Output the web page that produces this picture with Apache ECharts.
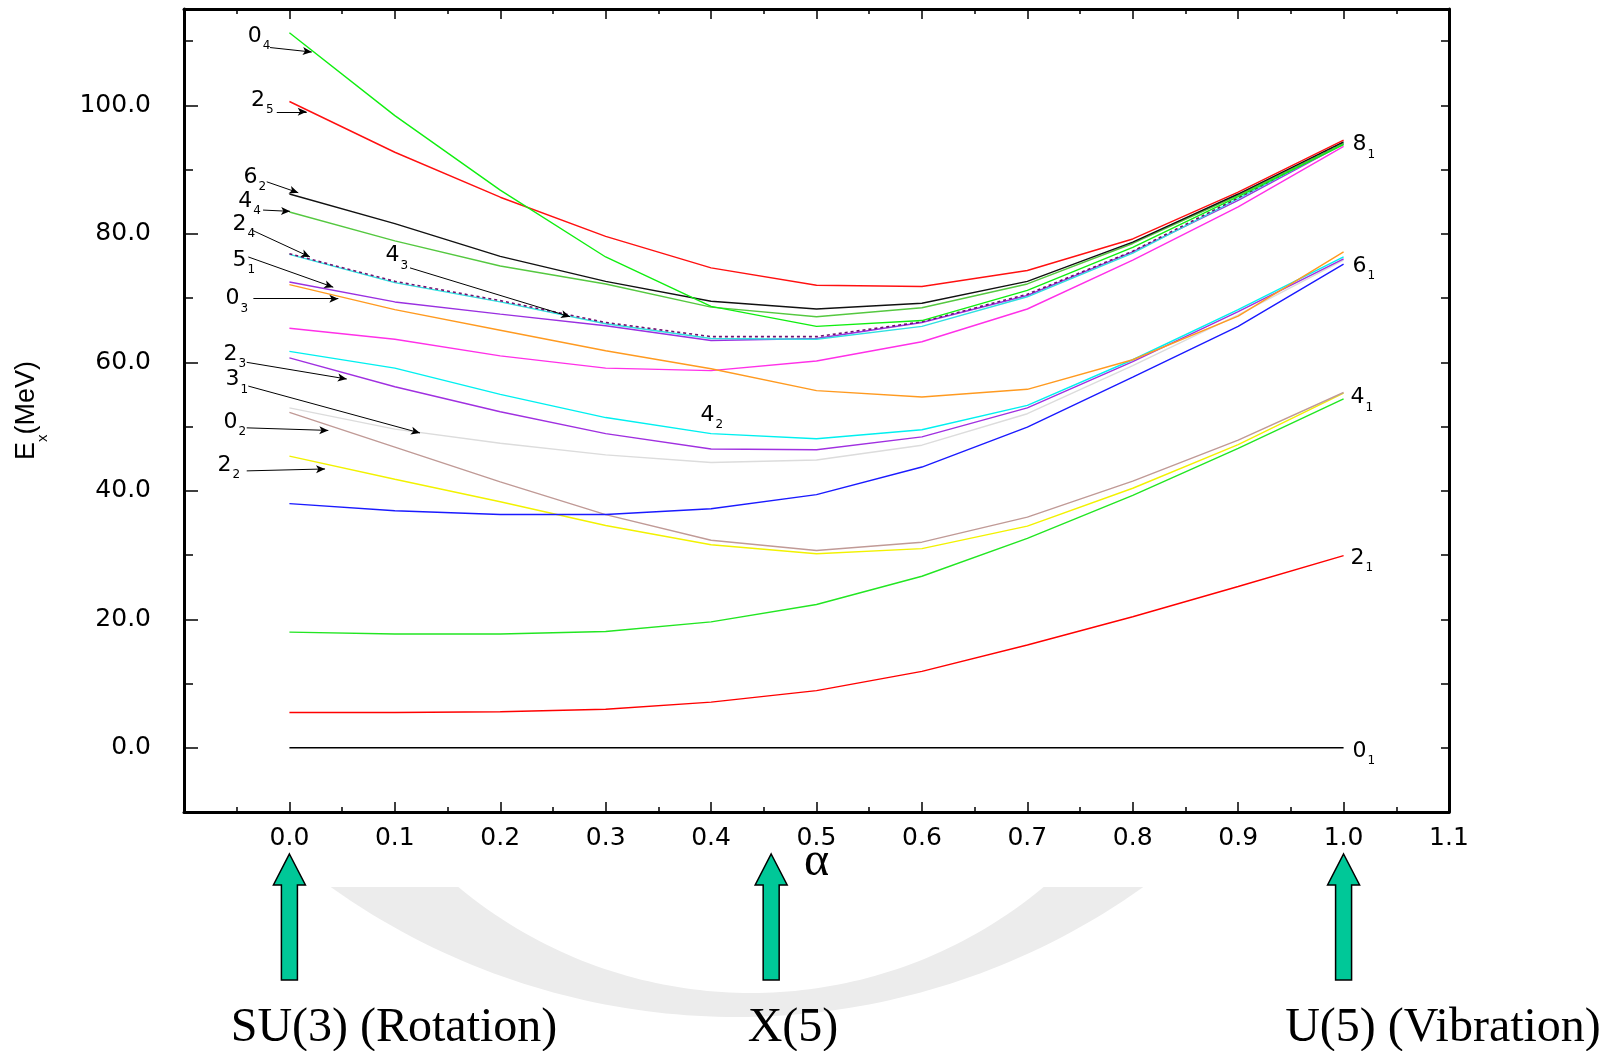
<!DOCTYPE html>
<html>
<head>
<meta charset="utf-8">
<script src="https://cdn.jsdelivr.net/npm/echarts@6/dist/echarts.min.js"></script>
<style>
html,body{margin:0;padding:0;background:#fff;}
#chart{width:1617px;height:1051px;}
</style>
</head>
<body>
<div id="chart"></div>
<script>
// ---------- data ----------
const alpha = [0.0, 0.1, 0.2, 0.3, 0.4, 0.5, 0.6, 0.7, 0.8, 0.9, 1.0];

const E_0_1   = [0, 0, 0, 0, 0, 0, 0, 0, 0, 0, 0];
const E_2_1   = [5.5, 5.5, 5.6, 6.0, 7.1, 8.9, 11.9, 16.0, 20.4, 25.1, 29.9];
const E_4_1   = [18.0, 17.7, 17.7, 18.1, 19.6, 22.3, 26.7, 32.6, 39.3, 46.6, 54.3];
const E_2_2   = [45.4, 41.8, 38.3, 34.6, 31.6, 30.2, 31.0, 34.5, 40.4, 47.2, 55.2];
const E_brown = [52.2, 46.8, 41.4, 36.3, 32.3, 30.7, 32.0, 35.9, 41.5, 47.9, 55.3];
const E_grey  = [52.9, 49.6, 47.4, 45.6, 44.4, 44.8, 47.1, 52.0, 59.5, 67.4, 75.9];
const E_blue  = [38.0, 36.9, 36.3, 36.3, 37.2, 39.4, 43.7, 49.9, 57.7, 65.6, 75.3];
const E_purpleLow = [60.7, 56.2, 52.3, 48.9, 46.5, 46.4, 48.4, 52.9, 60.1, 67.9, 76.1];
const E_cyanLow   = [61.7, 59.1, 55.0, 51.4, 48.9, 48.1, 49.5, 53.3, 60.4, 68.2, 76.4];
const E_magenta   = [65.3, 63.6, 61.0, 59.1, 58.7, 60.2, 63.2, 68.3, 75.9, 84.2, 93.6];
const E_0_3   = [72.1, 68.2, 65.0, 61.8, 59.0, 55.6, 54.6, 55.8, 60.4, 67.2, 77.2];
const E_5_1   = [72.5, 69.4, 67.5, 65.7, 63.4, 63.7, 66.2, 70.4, 77.2, 85.2, 94.0];
const E_2_4   = [76.8, 72.4, 69.4, 66.0, 63.7, 63.6, 65.6, 70.2, 77.0, 85.5, 94.1];
const E_4_3   = [76.9, 72.6, 69.6, 66.2, 64.0, 64.0, 66.3, 70.6, 77.3, 85.6, 94.2];
const E_4_4   = [83.4, 78.9, 75.0, 72.2, 68.6, 67.1, 68.5, 72.2, 78.5, 86.0, 94.1];
const E_6_2   = [86.2, 81.6, 76.5, 72.6, 69.5, 68.3, 69.2, 72.6, 78.7, 86.2, 94.3];
const E_2_5   = [100.6, 92.7, 85.7, 79.6, 74.7, 72.0, 71.8, 74.3, 79.2, 86.5, 94.6];
const E_0_4   = [111.3, 98.4, 86.8, 76.4, 68.7, 65.6, 66.5, 71.2, 77.9, 85.8, 93.9];

const curveNames  = ['0_1','2_1','4_1','2_2','brown','grey','blue','purpleLow','cyanLow','magenta','0_3','5_1','2_4','4_3','4_4','6_2','2_5','0_4'];
const curveValues = [E_0_1,E_2_1,E_4_1,E_2_2,E_brown,E_grey,E_blue,E_purpleLow,E_cyanLow,E_magenta,E_0_3,E_5_1,E_2_4,E_4_3,E_4_4,E_6_2,E_2_5,E_0_4];
const curveColors = ['#000000','#ff0000','#22e622','#f2f200','#c09a96','#dcdcdc','#1a1aff','#a030e0','#00f0f0','#ff30e8','#ff9a20','#9a30e0','#30e0e0','#701070','#55c840','#111111','#ff1010','#10ee10'];

// tick labels
const yTickLabels = [0, 20, 40, 60, 80, 100];

// state labels [main, subscript] and anchor (alpha, E) of the label's left-middle
const stateLabels = [
  ['0','4',-0.040,110.8], ['2','5',-0.037,100.8], ['6','2',-0.044,88.8], ['4','4',-0.049,85.1],
  ['2','4',-0.0545,81.5], ['5','1',-0.0545,75.9], ['0','3',-0.061,69.9], ['4','3',0.0907,76.6],
  ['2','3',-0.063,61.3], ['3','1',-0.061,57.3], ['0','2',-0.063,50.7], ['2','2',-0.0687,44.0],
  ['4','2',0.3895,51.8], ['8','1',1.008,93.9], ['6','1',1.008,75.0], ['4','1',1.006,54.5],
  ['2','1',1.006,29.5], ['0','1',1.008,-0.5]
];
// pointer arrows: from (alpha,E) to (alpha,E)
const pointerArrows = [
  [-0.0184,109.0, 0.0212,108.3], [-0.0120,99.0, 0.0164,99.0], [-0.0215,88.1, 0.0084,86.4],
  [-0.0250,83.7, 0.0006,83.5], [-0.0358,80.6, 0.0195,76.4], [-0.0390,76.4, 0.0416,71.7],
  [-0.0342,69.9, 0.0464,69.9], [0.1144,74.7, 0.2662,67.1], [-0.0405,60.0, 0.0544,57.4],
  [-0.0390,56.3, 0.1239,49.0], [-0.0405,49.8, 0.0369,49.4], [-0.0405,43.1, 0.0338,43.4]
];
// limits marked below the axis
const limitAlphas = [0.0, 0.457, 1.0];
const limitTexts  = ['SU(3) (Rotation)', 'X(5)', 'U(5) (Vibration)'];

// ---------- chart ----------
const chart = echarts.init(document.getElementById('chart'), null, {renderer: 'canvas'});

const tickFont = 'DejaVu Sans';
const labelRich = {
  n: {fontSize: 22, fontFamily: tickFont, color: '#000', lineHeight: 32},
  s: {fontSize: 12, fontFamily: tickFont, color: '#000', lineHeight: 12, verticalAlign: 'bottom', padding: [0,0,0,1]}
};

const series = curveValues.map((vals, i) => ({
  name: curveNames[i],
  type: 'line',
  data: alpha.map((a, k) => [a, vals[k]]),
  showSymbol: false,
  symbol: 'none',
  silent: true,
  animation: false,
  z: 3,
  lineStyle: {
    color: curveColors[i],
    width: curveNames[i] === '4_3' ? 1.6 : 1.4,
    type: curveNames[i] === '4_3' ? [3, 3] : 'solid'
  },
  itemStyle: {color: curveColors[i]}
}));

series[0].markLine = {
  silent: true,
  animation: false,
  symbol: ['none', 'arrow'],
  symbolSize: [6, 9],
  label: {show: false},
  lineStyle: {color: '#000', width: 1, type: 'solid'},
  emphasis: {disabled: true},
  data: pointerArrows.map(p => [{coord: [p[0], p[1]]}, {coord: [p[2], p[3]]}])
};
series[0].markPoint = {
  silent: true,
  animation: false,
  symbol: 'circle',
  symbolSize: 1,
  itemStyle: {color: 'rgba(0,0,0,0)'},
  emphasis: {disabled: true},
  data: stateLabels.map(l => ({
    coord: [l[2], l[3]],
    label: {
      show: true, position: 'right', distance: 0,
      formatter: '{n|' + l[0] + '}{s|' + l[1] + '}',
      rich: labelRich
    }
  }))
};

const frameLine = {show: true, onZero: false, lineStyle: {color: '#000', width: 3}};

const option = {
  backgroundColor: '#ffffff',
  animation: false,
  grid: {left: 184, right: 168, top: 9, bottom: 239, containLabel: false},
  xAxis: [
    {
      type: 'value', position: 'bottom', min: -0.1, max: 1.1, interval: 0.1,
      axisLine: frameLine,
      axisTick: {show: true, inside: true, length: 10, lineStyle: {color: '#000', width: 1.5}},
      minorTick: {show: true, splitNumber: 2, length: 5, lineStyle: {color: '#000', width: 1.5}},
      splitLine: {show: false}, minorSplitLine: {show: false},
      axisLabel: {
        margin: 14, color: '#000', fontFamily: tickFont, fontSize: 25,
        showMinLabel: true, showMaxLabel: true,
        formatter: v => (v < -0.001 ? '' : v.toFixed(1))
      },
      name: 'α', nameLocation: 'middle', nameGap: 26, nameMoveOverlap: false,
      nameTextStyle: {fontFamily: 'Liberation Serif', fontSize: 48, color: '#000'}
    },
    {
      type: 'value', position: 'top', min: -0.1, max: 1.1, interval: 0.1,
      axisLine: frameLine,
      axisTick: {show: true, inside: true, length: 10, lineStyle: {color: '#000', width: 1.5}},
      minorTick: {show: true, splitNumber: 2, length: 5, lineStyle: {color: '#000', width: 1.5}},
      splitLine: {show: false}, axisLabel: {show: false}
    }
  ],
  yAxis: [
    {
      type: 'value', position: 'left', min: -10, max: 115, interval: 10,
      axisLine: frameLine,
      axisTick: {show: true, inside: true, length: 9, lineStyle: {color: '#000', width: 1.5}},
      splitLine: {show: false},
      axisLabel: {
        margin: 33, color: '#000', fontFamily: tickFont, fontSize: 25,
        formatter: v => (yTickLabels.indexOf(Math.round(v)) >= 0 && Math.abs(v - Math.round(v)) < 1e-6 ? v.toFixed(1) : '')
      },
      name: '{a|E}{b|x}{a|(MeV)}', nameLocation: 'middle', nameRotate: 90, nameGap: 134,
      nameTextStyle: {
        rich: {
          a: {fontSize: 27, fontFamily: 'Liberation Sans', color: '#000', lineHeight: 46},
          b: {fontSize: 15, fontFamily: 'Liberation Sans', color: '#000', lineHeight: 15, verticalAlign: 'bottom'}
        }
      }
    },
    {
      type: 'value', position: 'right', min: -10, max: 115, interval: 10,
      axisLine: frameLine,
      axisTick: {show: true, inside: true, length: 8, lineStyle: {color: '#000', width: 1.5}},
      splitLine: {show: false}, axisLabel: {show: false}
    },
    {
      type: 'value', position: 'left', min: -10, max: 115,
      axisLine: {show: false, onZero: false},
      axisTick: {show: true, inside: true, length: 14, customValues: yTickLabels, lineStyle: {color: '#000', width: 1.5}},
      splitLine: {show: false}, axisLabel: {show: false}
    }
  ],
  series: series
};
chart.setOption(option);

// ---------- decorations below the plot ----------
const gfx = [];
// faint watermark ring (background decoration)
(function () {
  const pts = [];
  const cx1 = 737, cy1 = 317, R = 700, cx2 = 751, cy2 = 536, r = 457, cut = 887;
  const xo = Math.sqrt(R * R - (cut - cy1) * (cut - cy1));
  for (let i = 0; i <= 80; i++) {
    const x = cx1 - xo + (2 * xo) * i / 80;
    pts.push([x, cy1 + Math.sqrt(Math.max(0, R * R - (x - cx1) * (x - cx1)))]);
  }
  const xi = Math.sqrt(r * r - (cut - cy2) * (cut - cy2));
  for (let i = 0; i <= 80; i++) {
    const x = cx2 + xi - (2 * xi) * i / 80;
    pts.push([x, cy2 + Math.sqrt(Math.max(0, r * r - (x - cx2) * (x - cx2)))]);
  }
  gfx.push({type: 'polygon', z: -10, silent: true, shape: {points: pts}, style: {fill: '#ececec'}});
})();

limitAlphas.forEach((a, i) => {
  const cx = chart.convertToPixel({xAxisIndex: 0}, a);
  const tip = 854, base = 885, bottom = 980, hw = 16, sw = 8;
  gfx.push({
    type: 'polygon', z: 10, silent: true,
    shape: {points: [[cx, tip], [cx + hw, base], [cx + sw, base], [cx + sw, bottom], [cx - sw, bottom], [cx - sw, base], [cx - hw, base]]},
    style: {fill: '#00c898', stroke: '#000', lineWidth: 1.5}
  });
});
const textCenters = [394, 793, 1443];
limitTexts.forEach((t, i) => {
  gfx.push({
    type: 'text', z: 10, silent: true,
    style: {text: t, x: textCenters[i], y: 1028, fontSize: 48, fontFamily: 'Liberation Serif', fill: '#000', align: 'center', verticalAlign: 'middle'}
  });
});
chart.setOption({graphic: gfx});
</script>
</body>
</html>
